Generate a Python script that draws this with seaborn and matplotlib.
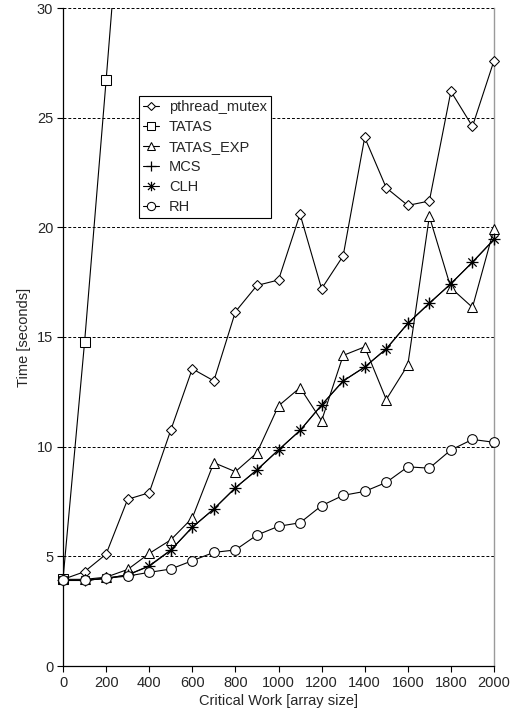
import matplotlib
matplotlib.use("Agg")
import matplotlib.pyplot as plt
from matplotlib.patches import Rectangle
from matplotlib.path import Path
import seaborn as sns
import pandas as pd

# Critical work sizes (array size)
work = [0, 100, 200, 300, 400, 500, 600, 700, 800, 900, 1000,
        1100, 1200, 1300, 1400, 1500, 1600, 1700, 1800, 1900, 2000]

# Run times in seconds for each lock
pthread_mutex = [3.95, 4.3, 5.1, 7.6, 7.9, 10.75, 13.55, 13.0, 16.15, 17.35, 17.6,
                 20.6, 17.2, 18.7, 24.1, 21.8, 21.0, 21.2, 26.2, 24.6, 27.6]
tatas_work = [0, 100, 200, 300]
tatas = [3.95, 14.75, 26.7, 39.0]
tatas_exp = [3.95, 3.95, 4.05, 4.4, 5.13, 5.75, 6.75, 9.27, 8.86, 9.72, 11.86,
             12.69, 11.18, 14.16, 14.55, 12.15, 13.72, 20.5, 17.24, 16.35, 19.93]
mcs = [3.9, 3.9, 4.0, 4.15, 4.55, 5.27, 6.33, 7.16, 8.12, 8.95, 9.85,
       10.74, 11.9, 13.0, 13.63, 14.46, 15.62, 16.55, 17.42, 18.42, 19.45]
clh = [3.9, 3.9, 4.0, 4.15, 4.57, 5.29, 6.32, 7.16, 8.13, 8.93, 9.85,
       10.74, 11.9, 12.99, 13.63, 14.46, 15.62, 16.53, 17.44, 18.4, 19.45]
rh = [3.9, 3.9, 4.0, 4.1, 4.27, 4.42, 4.8, 5.18, 5.29, 5.97, 6.37,
      6.53, 7.31, 7.78, 7.96, 8.37, 9.08, 9.02, 9.85, 10.33, 10.2]

x_ticks = list(range(0, 2001, 200))
y_ticks = list(range(0, 31, 5))

sns.set_theme(style="white")
plt.rcParams["font.family"] = ["Liberation Sans", "DejaVu Sans"]
FS = 10.5
plt.rcParams["font.size"] = FS

# Asterisk marker: a vertical stroke crossed by an X
asterisk = Path(
    [(0, -1), (0, 1), (-0.75, -0.75), (0.75, 0.75), (-0.75, 0.75), (0.75, -0.75)],
    [Path.MOVETO, Path.LINETO, Path.MOVETO, Path.LINETO, Path.MOVETO, Path.LINETO],
)

fig = plt.figure(figsize=(5.2, 7.17), dpi=100)
ax = fig.add_axes([63 / 520, 1 - 666 / 717, 431 / 520, 658 / 717])

series = [
    ("pthread_mutex", work, pthread_mutex, dict(marker="D", markersize=5)),
    ("TATAS", tatas_work, tatas, dict(marker="s", markersize=6.5)),
    ("TATAS_EXP", work, tatas_exp, dict(marker="^", markersize=7)),
    ("MCS", work, mcs, dict(marker="+", markersize=8, markeredgewidth=0.9)),
    ("CLH", work, clh, dict(marker=asterisk, markersize=8, markeredgewidth=0.9)),
    ("RH", work, rh, dict(marker="o", markersize=7)),
]

clip_rect = Rectangle((-0.1, -0.1), 1.2, 1.1, transform=ax.transAxes)

for name, xs, ys, style in series:
    df = pd.DataFrame({"work": xs, "time": ys})
    before = len(ax.lines)
    sns.lineplot(data=df, x="work", y="time", ax=ax, color="black",
                 linewidth=0.8, markerfacecolor="white",
                 markeredgecolor="black", label=name, zorder=3, **style)
    line = ax.lines[before]
    if name == "TATAS":
        line.set_clip_path(clip_rect)
    else:
        line.set_clip_on(False)

ax.set_xlim(0, 2000)
ax.set_ylim(0, 30)
ax.set_xticks(x_ticks)
ax.set_yticks(y_ticks)
ax.tick_params(axis="both", direction="out", length=4, width=0.8,
               color="black", labelsize=FS, pad=3, left=True, bottom=True)

ax.yaxis.grid(True, linestyle=(0, (3, 2)), color="black", linewidth=0.7)
ax.xaxis.grid(False)
ax.set_axisbelow(True)

for side in ("left", "bottom"):
    ax.spines[side].set_color("black")
    ax.spines[side].set_linewidth(0.9)
ax.spines["right"].set_color("#9a9a9a")
ax.spines["right"].set_linewidth(1.0)
ax.spines["top"].set_visible(False)

ax.set_xlabel("Critical Work [array size]", fontsize=FS, labelpad=3)
ax.set_ylabel("Time [seconds]", fontsize=FS, labelpad=4)

leg = ax.legend(loc="upper left", bbox_to_anchor=((139 - 63) / 431, (666 - 96) / 658),
                borderaxespad=0, frameon=True, fancybox=False, shadow=False,
                fontsize=FS, handlelength=1.1, handletextpad=0.7,
                labelspacing=0.42, borderpad=0.25, numpoints=1, markerscale=0.85)
leg.get_frame().set_edgecolor("black")
leg.get_frame().set_linewidth(0.8)
leg.get_frame().set_facecolor("white")
leg.get_frame().set_alpha(1)

fig.savefig("out.png", dpi=100)
